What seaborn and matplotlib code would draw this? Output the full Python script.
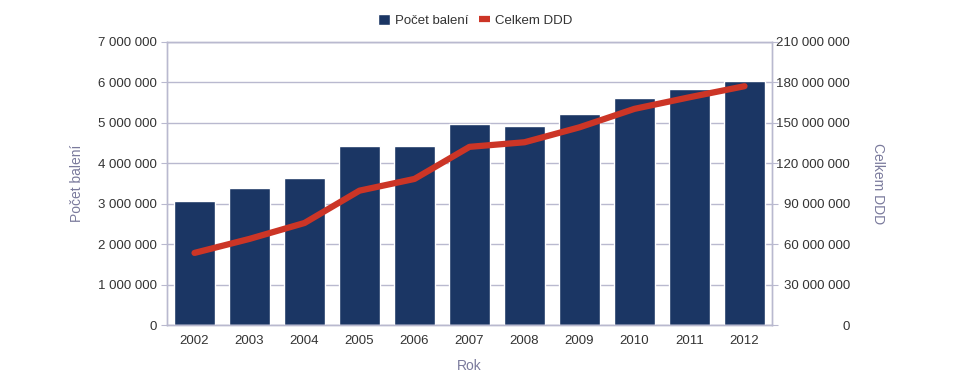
import numpy as np
import pandas as pd
import seaborn as sns
import matplotlib.pyplot as plt
from matplotlib.ticker import FuncFormatter, MultipleLocator
from matplotlib.patches import Patch
from matplotlib.lines import Line2D

years = ["2002", "2003", "2004", "2005", "2006", "2007", "2008", "2009", "2010", "2011", "2012"]
baleni = [3070000, 3390000, 3640000, 4430000, 4430000, 4980000, 4930000, 5220000, 5620000, 5840000, 6040000]
ddd = [53500000, 63900000, 75700000, 99700000, 108400000, 132200000, 135600000, 146700000, 160400000, 169000000, 177200000]

bar_color = "#1b3664"
line_color = "#cc3526"
grid_color = "#b9b9cf"
label_color = "#7a7a9c"
text_color = "#333333"

sns.set_style("white")
plt.rcParams["font.family"] = ["Liberation Sans", "DejaVu Sans"]
plt.rcParams["font.size"] = 9

df = pd.DataFrame({"Rok": years, "baleni": baleni, "ddd": ddd})

fig = plt.figure(figsize=(9.62, 3.8), dpi=100)
ax = fig.add_axes([0.1736, 0.1447, 0.6289, 0.7448])

sns.barplot(data=df, x="Rok", y="baleni", color=bar_color, saturation=1, width=0.76, ax=ax)
ax.set_ylim(0, 7000000)
ax.yaxis.set_major_locator(MultipleLocator(1000000))
ax.yaxis.grid(True, color=grid_color, linewidth=1)
ax.set_axisbelow(True)

ax2 = ax.twinx()
sns.pointplot(data=df, x="Rok", y="ddd", color=line_color, markers="", linewidth=4.5, ax=ax2)
ax2.set_ylim(0, 210000000)
ax2.yaxis.set_major_locator(MultipleLocator(30000000))
ax2.grid(False)

fmt = FuncFormatter(lambda v, p: f"{int(round(v)):,}".replace(",", " "))
ax.yaxis.set_major_formatter(fmt)
ax2.yaxis.set_major_formatter(fmt)

for a in (ax, ax2):
    for s in a.spines.values():
        s.set_color(grid_color)
        s.set_linewidth(1)
    a.tick_params(colors=text_color, labelsize=9.5, length=4, color=grid_color)

# right axis labels are right-aligned in the reference
for lbl in ax2.get_yticklabels():
    lbl.set_horizontalalignment("right")
ax2.tick_params(axis="y", pad=52)

ax.set_xlabel("Rok", color=label_color, fontsize=10, labelpad=8)
ax.set_ylabel("Počet balení", color=label_color, fontsize=10, labelpad=10)
ax2.set_ylabel("Celkem DDD", color=label_color, fontsize=10, rotation=270, labelpad=25)
ax2.set_xlabel("")

handles = [Patch(facecolor=bar_color, label="Počet balení"),
           Line2D([0], [0], color=line_color, linewidth=4.5, solid_capstyle="butt", label="Celkem DDD")]
fig.legend(handles=handles, loc="upper center", bbox_to_anchor=(0.494, 0.995), ncol=2,
           frameon=False, fontsize=9.5, handlelength=0.9, handleheight=0.9,
           handletextpad=0.35, columnspacing=0.8, labelcolor=text_color)

fig.savefig("out.png", dpi=100)
